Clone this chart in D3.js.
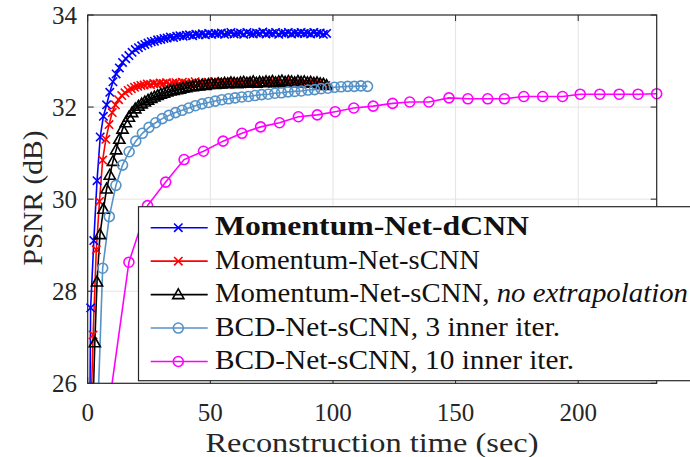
<!DOCTYPE html>
<html>
<head>
<meta charset="utf-8">
<script src="https://cdn.jsdelivr.net/npm/d3@7"></script>
<style>
body { margin: 0; background: #fff; }
text { font-family: "Liberation Serif", "Times New Roman", serif; fill: #262626; }
</style>
</head>
<body>
<svg id="chart"></svg>
<script>
const W = 690
const H = 457

// Momentum-Net-dCNN
const dcnnTime = [0.3, 1.2, 2.5, 3.8, 5.1, 6.4, 7.7, 9.0, 10.3, 11.6, 12.9, 14.2, 15.5, 16.8, 18.1, 19.4, 20.7, 22.0, 23.3, 24.6,
    25.9, 27.2, 28.5, 29.8, 31.1, 32.4, 33.7, 35.0, 36.3, 37.6, 38.9, 40.2, 41.5, 42.8, 44.1, 45.4, 46.7, 48.0, 49.3, 50.6,
    51.9, 53.2, 54.5, 55.8, 57.1, 58.4, 59.7, 61.0, 62.3, 63.6, 64.9, 66.2, 67.5, 68.8, 70.1, 71.4, 72.7, 74.0, 75.3, 76.6,
    77.9, 79.2, 80.5, 81.8, 83.1, 84.4, 85.7, 87.0, 88.3, 89.6, 90.9, 92.2, 93.5, 94.8, 96.1, 97.4]
const dcnnPsnr = [21.5, 27.64, 29.1, 30.4, 31.35, 31.8, 32.05, 32.32, 32.55, 32.72, 32.85, 32.97, 33.05, 33.12, 33.19, 33.25, 33.29, 33.33, 33.36, 33.39,
    33.42, 33.43, 33.46, 33.47, 33.49, 33.5, 33.52, 33.51, 33.54, 33.55, 33.54, 33.56, 33.57, 33.55, 33.58, 33.57, 33.59, 33.57, 33.6, 33.58,
    33.6, 33.59, 33.61, 33.58, 33.6, 33.62, 33.59, 33.6, 33.61, 33.58, 33.62, 33.6, 33.59, 33.61, 33.6, 33.63, 33.59, 33.61, 33.6, 33.62,
    33.58, 33.61, 33.6, 33.62, 33.59, 33.61, 33.6, 33.62, 33.6, 33.61, 33.59, 33.62, 33.6, 33.61, 33.58, 33.6]

// Momentum-Net-sCNN
const scnnTime = [0.9, 2.2, 3.5, 4.8, 6.1, 7.4, 8.7, 10.0, 11.3, 12.6, 13.9, 15.2, 16.5, 17.8, 19.1, 20.4, 21.7, 23.0, 24.3, 25.6,
    26.9, 28.2, 29.5, 30.8, 32.1, 33.4, 34.7, 36.0, 37.3, 38.6, 39.9, 41.2, 42.5, 43.8, 45.1, 46.4, 47.7, 49.0, 50.3, 51.6,
    52.9, 54.2, 55.5, 56.8, 58.1, 59.4, 60.7, 62.0, 63.3, 64.6, 65.9, 67.2, 68.5, 69.8, 71.1, 72.4, 73.7, 75.0, 76.3, 77.6,
    78.9, 80.2, 81.5, 82.8, 84.1, 85.4, 86.7, 88.0, 89.3, 90.6, 91.9, 93.2, 94.5, 95.8, 97.1]
const scnnPsnr = [24.5, 27.05, 28.9, 29.95, 30.85, 31.3, 31.62, 31.88, 32.05, 32.16, 32.25, 32.31, 32.36, 32.4, 32.43, 32.45, 32.47, 32.48, 32.5, 32.49,
    32.51, 32.5, 32.52, 32.51, 32.53, 32.5, 32.52, 32.53, 32.51, 32.54, 32.52, 32.5, 32.53, 32.55, 32.51, 32.53, 32.5, 32.54, 32.52, 32.55,
    32.51, 32.53, 32.54, 32.5, 32.52, 32.55, 32.53, 32.51, 32.54, 32.52, 32.5, 32.55, 32.53, 32.52, 32.54, 32.51, 32.53, 32.55, 32.52, 32.5,
    32.54, 32.53, 32.51, 32.55, 32.52, 32.53, 32.5, 32.54, 32.52, 32.51, 32.53, 32.5, 32.52, 32.49, 32.47]

// Momentum-Net-sCNN, no extrapolation
const noExtrapTime = [1.6, 2.9, 3.8, 5.0, 6.4, 7.7, 9.0, 10.3, 11.6, 12.9, 14.2, 15.5, 16.8, 18.1, 19.4, 20.7, 22.0, 23.3, 24.6, 25.9,
    27.2, 28.5, 29.8, 31.1, 32.4, 33.7, 35.0, 36.3, 37.6, 38.9, 40.2, 41.5, 42.8, 44.1, 45.4, 46.7, 48.0, 49.3, 50.6, 51.9,
    53.2, 54.5, 55.8, 57.1, 58.4, 59.7, 61.0, 62.3, 63.6, 64.9, 66.2, 67.5, 68.8, 70.1, 71.4, 72.7, 74.0, 75.3, 76.6, 77.9,
    79.2, 80.5, 81.8, 83.1, 84.4, 85.7, 87.0, 88.3, 89.6, 90.9, 92.2, 93.5, 94.8, 96.1, 97.4]
const noExtrapPsnr = [24.5, 26.88, 28.2, 29.23, 29.78, 30.22, 30.52, 30.82, 31.07, 31.3, 31.52, 31.66, 31.78, 31.88, 31.96, 32.02, 32.07, 32.11, 32.15, 32.19,
    32.22, 32.25, 32.28, 32.3, 32.33, 32.35, 32.36, 32.38, 32.39, 32.41, 32.42, 32.44, 32.44, 32.46, 32.46, 32.48, 32.47, 32.49, 32.5, 32.49,
    32.51, 32.5, 32.52, 32.51, 32.53, 32.52, 32.51, 32.53, 32.54, 32.52, 32.53, 32.55, 32.52, 32.54, 32.53, 32.55, 32.54, 32.56, 32.53, 32.55,
    32.57, 32.54, 32.56, 32.55, 32.53, 32.56, 32.54, 32.55, 32.53, 32.54, 32.52, 32.53, 32.51, 32.5, 32.47]

// BCD-Net-sCNN, 3 inner iter.
const bcd3Time = [3.4, 6.1, 8.8, 11.5, 14.2, 16.9, 19.6, 22.3, 25.0, 27.7, 30.4, 33.1, 35.8, 38.5, 41.2, 43.9, 46.6, 49.3, 52.0, 54.7,
    57.4, 60.1, 62.8, 65.5, 68.2, 70.9, 73.6, 76.3, 79.0, 81.7, 84.4, 87.1, 89.8, 92.5, 95.2, 97.9, 100.6, 103.3, 106.0, 108.7,
    111.4, 114.1]
const bcd3Psnr = [24.3, 28.5, 29.62, 30.3, 30.74, 31.03, 31.26, 31.43, 31.56, 31.66, 31.75, 31.82, 31.88, 31.93, 31.98, 32.03, 32.07, 32.1, 32.13, 32.16,
    32.18, 32.2, 32.22, 32.23, 32.25, 32.27, 32.28, 32.3, 32.31, 32.33, 32.34, 32.35, 32.37, 32.38, 32.4, 32.41, 32.43, 32.44, 32.45, 32.45,
    32.46, 32.45]

// BCD-Net-sCNN, 10 inner iter.
const bcd10Time = [8.9, 16.8, 24.4, 31.8, 39.3, 47.2, 55.2, 62.9, 70.5, 78.2, 85.9, 93.6, 100.9, 108.5, 116.4, 124.3, 131.3, 139.1, 147.3, 155.0,
    163.1, 169.9, 177.8, 185.5, 193.6, 200.8, 208.8, 216.7, 224.4, 232.0]
const bcd10Psnr = [25.6, 28.63, 29.86, 30.37, 30.86, 31.04, 31.26, 31.43, 31.57, 31.66, 31.79, 31.83, 31.9, 31.98, 32.02, 32.08, 32.11, 32.11, 32.2, 32.18,
    32.18, 32.18, 32.23, 32.23, 32.23, 32.28, 32.28, 32.28, 32.28, 32.29]

const xTicks = [0, 50, 100, 150, 200]
const yTicks = [26, 28, 30, 32, 34]

const series = [
    {name: 'Momentum-Net-dCNN', time: dcnnTime, psnr: dcnnPsnr, color: '#0000ff', marker: 'cross', width: 314},
    {name: 'Momentum-Net-sCNN', time: scnnTime, psnr: scnnPsnr, color: '#ff0000', marker: 'cross', width: 265},
    {name: 'Momentum-Net-sCNN, ', italic: 'no extrapolation', time: noExtrapTime, psnr: noExtrapPsnr, color: '#000000', marker: 'triangle', width: 473},
    {name: 'BCD-Net-sCNN, 3 inner iter.', time: bcd3Time, psnr: bcd3Psnr, color: '#5592c8', marker: 'circle', width: 345},
    {name: 'BCD-Net-sCNN, 10 inner iter.', time: bcd10Time, psnr: bcd10Psnr, color: '#ff00ff', marker: 'circle', width: 359}
]

const plot = {left: 87.7, right: 656.7, top: 15, bottom: 383.3}
const axisColor = '#262626'

const x = d3.scaleLinear().domain([0, 232]).range([plot.left, plot.right])
const y = d3.scaleLinear().domain([26, 34]).range([plot.bottom, plot.top])

const svg = d3.select('#chart')
    .attr('width', W)
    .attr('height', H)

svg.append('defs')
    .append('clipPath')
    .attr('id', 'plot-clip')
    .append('rect')
    .attr('x', plot.left)
    .attr('y', plot.top)
    .attr('width', plot.right - plot.left)
    .attr('height', plot.bottom - plot.top)

// grid
svg.append('g')
    .selectAll('line')
    .data(xTicks.slice(1))
    .enter()
    .append('line')
    .attr('x1', d => x(d)).attr('x2', d => x(d))
    .attr('y1', plot.top).attr('y2', plot.bottom)
    .attr('stroke', '#e3e3e3')
    .attr('stroke-width', 1)

svg.append('g')
    .selectAll('line')
    .data(yTicks.slice(1, -1))
    .enter()
    .append('line')
    .attr('x1', plot.left).attr('x2', plot.right)
    .attr('y1', d => y(d)).attr('y2', d => y(d))
    .attr('stroke', '#e3e3e3')
    .attr('stroke-width', 1)

const markerPath = {
    cross: 'M-4.2,-4.2L4.2,4.2M-4.2,4.2L4.2,-4.2',
    triangle: 'M0,-5.8L5.6,4L-5.6,4Z',
    circle: d3.symbol().type(d3.symbolCircle).size(Math.PI * 25)()
}

const line = d3.line()
    .x(d => x(d.t))
    .y(d => y(d.v))

const lines = svg.append('g').attr('clip-path', 'url(#plot-clip)')
const marks = svg.append('g')

series.forEach(s => {
    const pts = s.time.map((t, i) => ({t: t, v: s.psnr[i]}))

    lines.append('path')
        .datum(pts)
        .attr('d', line)
        .attr('fill', 'none')
        .attr('stroke', s.color)
        .attr('stroke-width', 1.6)

    marks.append('g')
        .selectAll('path')
        .data(pts.filter(d => d.v >= 26 && d.v <= 34 && d.t <= 232))
        .enter()
        .append('path')
        .attr('transform', d => `translate(${x(d.t)},${y(d.v)})`)
        .attr('d', markerPath[s.marker])
        .attr('fill', 'none')
        .attr('stroke', s.color)
        .attr('stroke-width', 1.6)
})

// axes box with inward ticks
const axes = svg.append('g')

axes.append('rect')
    .attr('x', plot.left)
    .attr('y', plot.top)
    .attr('width', plot.right - plot.left)
    .attr('height', plot.bottom - plot.top)
    .attr('fill', 'none')
    .attr('stroke', axisColor)
    .attr('stroke-width', 1.2)

xTicks.forEach(t => {
    axes.append('line')
        .attr('x1', x(t)).attr('x2', x(t))
        .attr('y1', plot.bottom).attr('y2', plot.bottom - 6)
        .attr('stroke', axisColor)
    axes.append('line')
        .attr('x1', x(t)).attr('x2', x(t))
        .attr('y1', plot.top).attr('y2', plot.top + 6)
        .attr('stroke', axisColor)
    axes.append('text')
        .attr('x', x(t))
        .attr('y', 421)
        .attr('text-anchor', 'middle')
        .attr('font-size', 25)
        .text(t)
})

yTicks.forEach(t => {
    axes.append('line')
        .attr('x1', plot.left).attr('x2', plot.left + 6)
        .attr('y1', y(t)).attr('y2', y(t))
        .attr('stroke', axisColor)
    axes.append('line')
        .attr('x1', plot.right).attr('x2', plot.right - 6)
        .attr('y1', y(t)).attr('y2', y(t))
        .attr('stroke', axisColor)
    axes.append('text')
        .attr('x', 77)
        .attr('y', y(t) + 8.5)
        .attr('text-anchor', 'end')
        .attr('font-size', 25)
        .text(t)
})

svg.append('text')
    .attr('x', 372)
    .attr('y', 452)
    .attr('text-anchor', 'middle')
    .attr('font-size', 27)
    .attr('textLength', 333)
    .attr('lengthAdjust', 'spacingAndGlyphs')
    .text('Reconstruction time (sec)')

svg.append('text')
    .attr('transform', 'translate(42,198) rotate(-90)')
    .attr('text-anchor', 'middle')
    .attr('font-size', 27)
    .attr('textLength', 135)
    .attr('lengthAdjust', 'spacingAndGlyphs')
    .text('PSNR (dB)')

// legend
const legend = svg.append('g')

legend.append('rect')
    .attr('x', 138.5)
    .attr('y', 206.7)
    .attr('width', 600)
    .attr('height', 174)
    .attr('fill', '#fff')
    .attr('stroke', axisColor)
    .attr('stroke-width', 1.2)

const rowY = d3.scalePoint().domain(series.map(s => s.name)).range([227.7, 361.5])

series.forEach(s => {
    const ry = rowY(s.name)
    legend.append('line')
        .attr('x1', 150.7).attr('x2', 207.7)
        .attr('y1', ry).attr('y2', ry)
        .attr('stroke', s.color)
        .attr('stroke-width', 1.6)
    legend.append('path')
        .attr('transform', `translate(178.3,${ry})`)
        .attr('d', markerPath[s.marker])
        .attr('fill', 'none')
        .attr('stroke', s.color)
        .attr('stroke-width', 1.6)
    const txt = legend.append('text')
        .attr('x', 215)
        .attr('y', ry + 7.5)
        .attr('font-size', 26.5)
        .attr('fill', '#111')
        .attr('textLength', s.width)
        .attr('lengthAdjust', 'spacingAndGlyphs')
        .style('fill', '#111')
    if (s.name === 'Momentum-Net-dCNN') txt.attr('font-weight', 'bold')
    txt.append('tspan').text(s.name)
    if (s.italic) txt.append('tspan').attr('font-style', 'italic').text(s.italic)
})
</script>
</body>
</html>
